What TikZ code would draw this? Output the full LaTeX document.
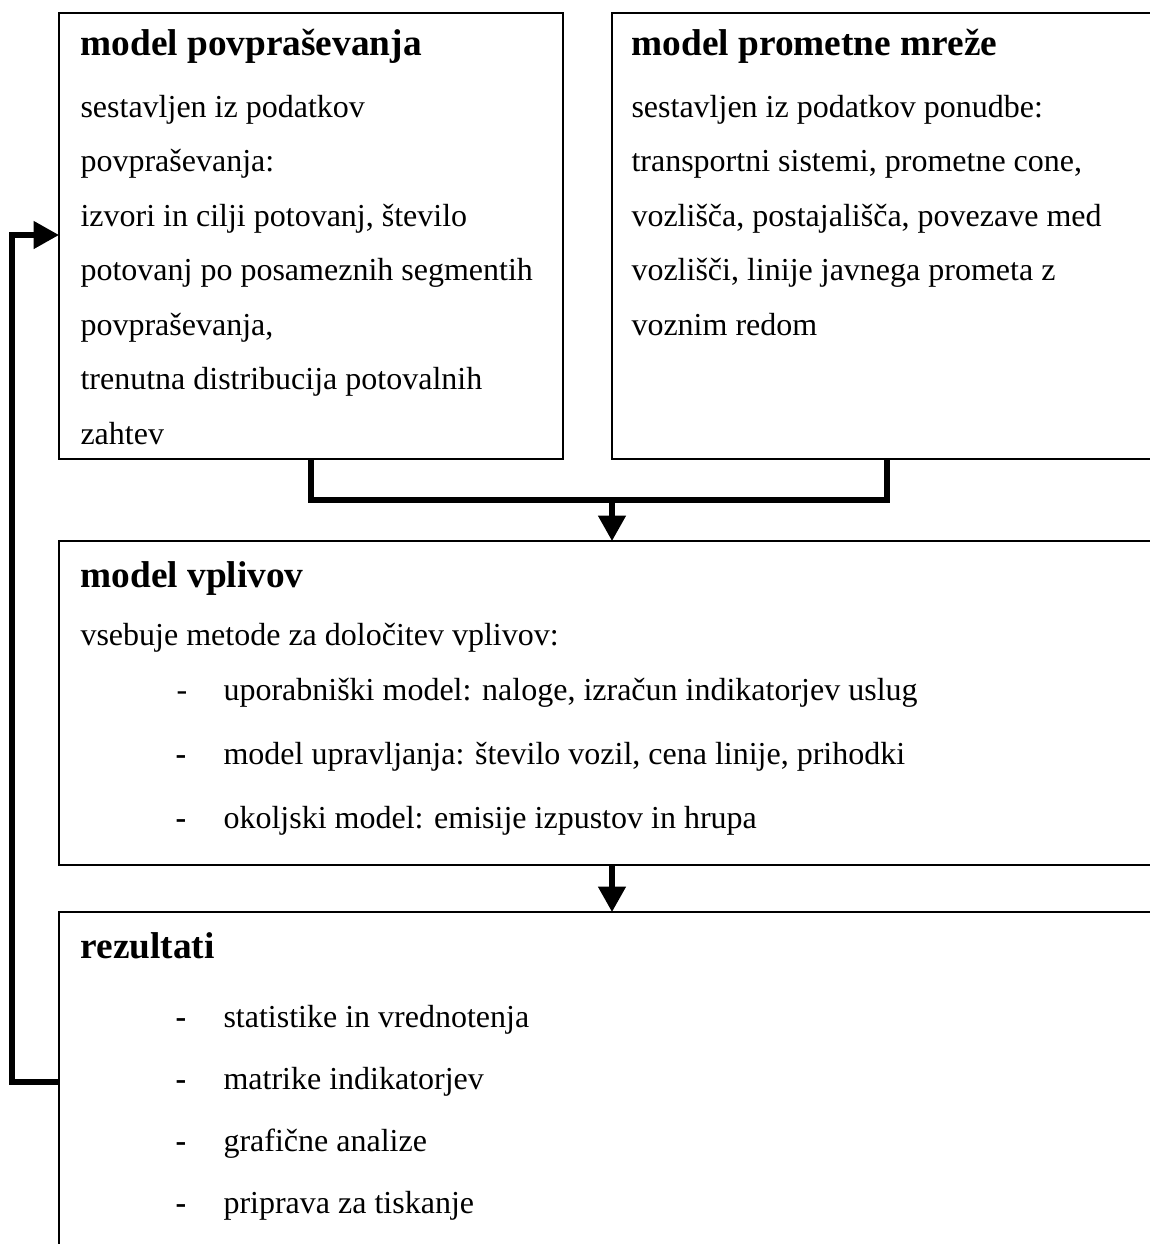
\documentclass[tikz,border=0pt]{standalone}
\usepackage{fontspec}
\setmainfont{Liberation Serif}
\usetikzlibrary{arrows.meta}
\begin{document}
\begin{tikzpicture}[x=0.375pt,y=-0.375pt,
  box/.style={draw, line width=0.8pt, rectangle, anchor=north west, inner sep=0pt, outer sep=0pt},
  head/.style={anchor=base west, inner sep=0pt, font=\fontsize{14}{16}\selectfont\bfseries},
  txt/.style={anchor=base west, inner sep=0pt, font=\fontsize{12}{14}\selectfont},
  bullet/.style={anchor=base west, inner sep=0pt, font=\fontsize{12}{14}\selectfont},
  flow/.style={line width=2pt},
  arr/.style={flow, -{Triangle[width=10pt,length=9.5pt]}}]
\useasboundingbox (0,0) rectangle (1150,1244);
\clip (0,0) rectangle (1150,1244);

% boxes (the right-hand ones run past the page edge)
\node[box, minimum width=189pt, minimum height=167.25pt] (demand) at (59,13) {};
\node[box, minimum width=220.5pt, minimum height=167.25pt] (network) at (612,13) {};
\node[box, minimum width=427.875pt, minimum height=121.5pt] (impacts) at (59,541) {};
\node[box, minimum width=427.875pt, minimum height=145.5pt] (results) at (59,912) {};

% demand model
\node[head] (t1) at (80,55) {model povpraševanja};
\node[txt] (d1) at (80,117) {sestavljen iz podatkov};
\node[txt] (d2) at (80,171.5) {povpraševanja:};
\node[txt] (d3) at (80,226) {izvori in cilji potovanj, število};
\node[txt] (d4) at (80,280.5) {potovanj po posameznih segmentih};
\node[txt] (d5) at (80,335) {povpraševanja,};
\node[txt] (d6) at (80,389.5) {trenutna distribucija potovalnih};
\node[txt] (d7) at (80,444) {zahtev};

% network model
\node[head] (t2) at (631,55) {model prometne mreže};
\node[txt] (n1) at (631,117) {sestavljen iz podatkov ponudbe:};
\node[txt] (n2) at (631,171.5) {transportni sistemi, prometne cone,};
\node[txt] (n3) at (631,226) {vozlišča, postajališča, povezave med};
\node[txt] (n4) at (631,280.5) {vozlišči, linije javnega prometa z};
\node[txt] (n5) at (631,335) {voznim redom};

% impact model
\node[head] (t3) at (80,587) {model vplivov};
\node[txt] (i0) at (80,645) {vsebuje metode za določitev vplivov:};
\node[bullet] (b1) at (176,700) {-};
\node[txt] (i1) at (223,700) {uporabniški model: naloge, izračun indikatorjev uslug};
\node[bullet] (b2) at (175,764) {\bfseries -};
\node[txt] (i2) at (223,764) {model upravljanja: število vozil, cena linije, prihodki};
\node[bullet] (b3) at (175,828) {\bfseries -};
\node[txt] (i3) at (223,828) {okoljski model: emisije izpustov in hrupa};

% results
\node[head] (t4) at (80,958) {rezultati};
\node[bullet] (r1b) at (175,1027) {\bfseries -};
\node[txt] (r1) at (223,1027) {statistike in vrednotenja};
\node[bullet] (r2b) at (175,1089) {\bfseries -};
\node[txt] (r2) at (223,1089) {matrike indikatorjev};
\node[bullet] (r3b) at (175,1151) {\bfseries -};
\node[txt] (r3) at (223,1151) {grafične analize};
\node[bullet] (r4b) at (175,1213) {\bfseries -};
\node[txt] (r4) at (223,1213) {priprava za tiskanje};

% connectors
\coordinate (jl) at (311,500);
\coordinate (jr) at (887,500);
\coordinate (jm) at (612,500);
\draw[flow] (demand.south -| jl) -- (jl) -- (jr) -- (network.south -| jr);
\draw[arr] (jm) -- (impacts.north -| jm);

\coordinate (km) at (612,0);
\draw[arr] (impacts.south -| km) -- (results.north -| km);

\coordinate (fl) at (12,1082);
\coordinate (fu) at (12,235);
\draw[arr] (results.west |- fl) -- (fl) -- (fu) -- (demand.west |- fu);
\end{tikzpicture}
\end{document}
